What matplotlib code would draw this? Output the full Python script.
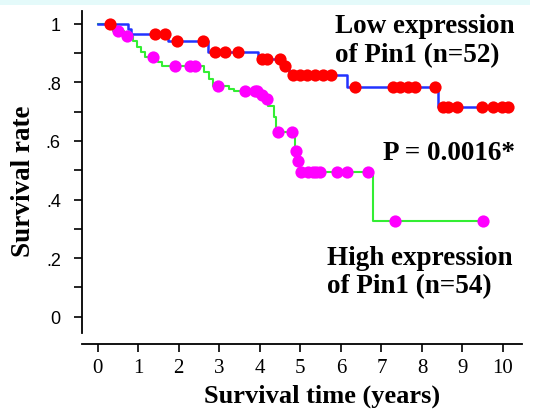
import numpy as np
import matplotlib
matplotlib.use("Agg")
import matplotlib.pyplot as plt
from matplotlib.patches import Rectangle

# ---- data (years, survival) ----
low_step_t = [0.0, 0.75, 0.81, 1.73, 2.72, 3.96, 4.58, 4.73, 6.15, 8.40]
low_step_s = [1.0, 0.982, 0.965, 0.941, 0.903, 0.880, 0.855, 0.825, 0.784, 0.716]
low_censor = [0.30, 1.41, 1.66, 1.96, 2.60, 2.89, 3.14, 3.46, 4.05, 4.17, 4.50,
              4.62, 4.82, 4.99, 5.16, 5.36, 5.56, 5.76, 6.35, 7.29, 7.46, 7.66,
              7.83, 8.32, 8.52, 8.64, 8.87, 9.48, 9.76, 9.98, 10.13]

high_step_t = [0.0, 0.23, 0.38, 0.65, 0.87, 0.97, 1.07, 1.17, 1.49, 1.59, 2.62,
               2.75, 2.84, 3.24, 3.36, 4.00, 4.13, 4.20, 4.35, 4.40, 4.86, 4.88,
               4.93, 4.98, 6.79]
high_step_s = [1.0, 0.985, 0.976, 0.958, 0.940, 0.922, 0.903, 0.886, 0.870, 0.856,
               0.834, 0.810, 0.787, 0.777, 0.770, 0.755, 0.743, 0.720, 0.680, 0.630,
               0.600, 0.565, 0.531, 0.494, 0.327]
high_censor = [0.50, 0.72, 1.36, 1.91, 2.28, 2.40, 2.97, 3.63, 3.88, 3.93, 4.05,
               4.17, 4.45, 4.79, 4.89, 4.95, 5.02, 5.19, 5.31, 5.38, 5.49, 5.90,
               6.15, 6.67, 7.33, 9.51]

x_ticks = list(range(0, 11))
y_ticks = [0, 0.2, 0.4, 0.6, 0.8, 1.0]
y_ticklabels = ["0", ".2", ".4", ".6", ".8", "1"]


def km_curve(step_t, step_s, censor):
    t = np.array(step_t + [max(censor)])
    s = np.array(step_s + [step_s[-1]])
    c = np.array(censor)
    idx = np.searchsorted(np.array(step_t), c, side="right") - 1
    cs = np.array(step_s)[idx]
    return t, s, c, cs


W, H = 537, 410
fig = plt.figure(figsize=(W / 100, H / 100), dpi=100)
fig.patch.set_facecolor("white")
fig.patches.append(Rectangle((0, 1 - 6 / H), 530 / W, 6 / H, transform=fig.transFigure,
                             facecolor="#e4fafa", edgecolor="none", zorder=0))

ax = fig.add_axes([81.7 / W, 76 / H, (522 - 81.7) / W, (334 - 12) / H])
ax.set_xlim((81.7 - 97.7) / 40.53, (522 - 97.7) / 40.53)
ax.set_ylim((317.7 - 334) / 293, (317.7 - 12) / 293)

serif = ["Liberation Serif", "DejaVu Serif"]
narrow = ["Liberation Sans Narrow", "Liberation Sans", "DejaVu Sans"]

t, s, c, cs = km_curve(high_step_t, high_step_s, high_censor)
ax.step(t, s, where="post", color="#33ee33", lw=1.5, zorder=2)
ax.plot(c, cs, "o", color="#ff00ff", ms=8.8, mec="none", zorder=3)

t, s, c, cs = km_curve(low_step_t, low_step_s, low_censor)
ax.step(t, s, where="post", color="#2233ff", lw=1.8, zorder=2)
ax.plot(c, cs, "o", color="#ff0000", ms=8.8, mec="none", zorder=4)

for sp in ["top", "right"]:
    ax.spines[sp].set_visible(False)
ax.spines["bottom"].set_position(("outward", 8))
ax.spines["left"].set_linewidth(1.3)
ax.spines["bottom"].set_linewidth(1.3)

ax.set_xticks(x_ticks)
ax.set_xticklabels([str(v) for v in x_ticks], fontfamily=serif, fontsize=15)
ax.set_yticks(y_ticks)
ax.set_yticklabels(y_ticklabels, fontfamily=narrow, fontsize=13)
ax.set_yticks(np.arange(0.1, 1.0, 0.2), minor=True)
ax.tick_params(axis="both", which="both", direction="out", length=6, width=1.2)
ax.tick_params(axis="x", pad=4)
ax.tick_params(axis="y", pad=9)

bold = dict(fontfamily=serif, fontweight="bold", fontsize=19.5)
fig.text(322 / W, 1 - 403 / H, "Survival time (years)", ha="center", va="baseline",
         fontfamily=serif, fontweight="bold", fontsize=19)
fig.text(23 / W, 1 - 181 / H, "Survival rate", ha="center", va="center",
         rotation=90, **bold)

fig.text(335 / W, 1 - 33 / H, "Low expression", ha="left", va="baseline", **bold)
fig.text(335 / W, 1 - 62 / H, "of Pin1 (n=52)", ha="left", va="baseline", **bold)
fig.text(383 / W, 1 - 160 / H, "P = 0.0016*", ha="left", va="baseline", **bold)
fig.text(327 / W, 1 - 265 / H, "High expression", ha="left", va="baseline", **bold)
fig.text(327 / W, 1 - 293 / H, "of Pin1 (n=54)", ha="left", va="baseline", **bold)

fig.savefig("out.png", dpi=100)
